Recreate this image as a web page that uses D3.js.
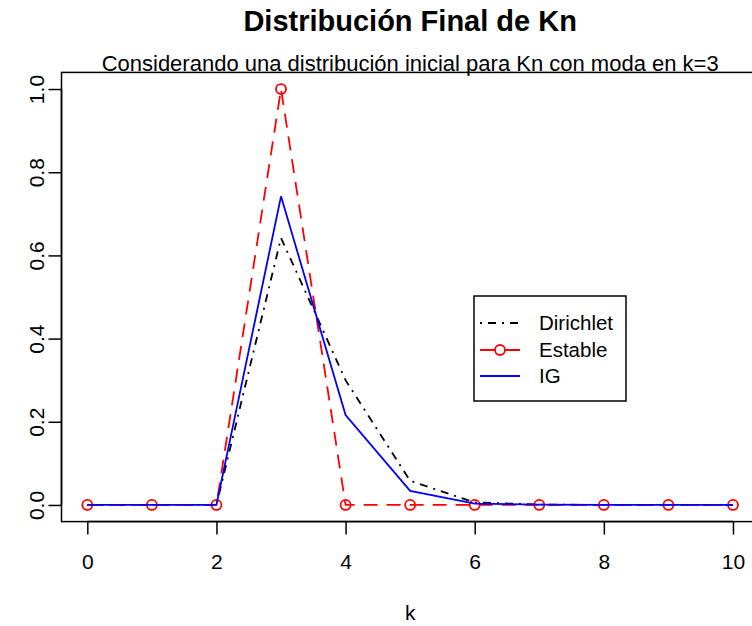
<!DOCTYPE html>
<html>
<head>
<meta charset="utf-8">
<script src="https://cdn.jsdelivr.net/npm/d3@7"></script>
<style>
  html, body { margin: 0; padding: 0; background: #fff; }
  svg { display: block; font-family: "Liberation Sans", Arial, Helvetica, sans-serif; }
</style>
</head>
<body>
<svg id="chart" width="752" height="626"></svg>
<script>
// Valores de k
const kValues = [0, 1, 2, 3, 4, 5, 6, 7, 8, 9, 10];
// Distribución final de Kn bajo cada previa
const dirichlet = [0, 0, 0, 0.642, 0.300, 0.058, 0.006, 0.001, 0, 0, 0];
const estable   = [0, 0, 0, 1.0, 0, 0, 0, 0, 0, 0, 0];
const ig        = [0, 0, 0, 0.742, 0.216, 0.034, 0.003, 0.001, 0, 0, 0];
const xTicks = [0, 2, 4, 6, 8, 10];
const yTicks = [0, 0.2, 0.4, 0.6, 0.8, 1.0];
const seriesNames = ["Dirichlet", "Estable", "IG"];

const svg = d3.select("#chart");
const box = { left: 61.5, right: 758.8, top: 72.4, bottom: 521.6 };
const FONT = "Liberation Sans, Arial, sans-serif";
const TICK_SIZE = 21;

// R-style 4% padding around the data range
const x = d3.scaleLinear().domain([-0.4, 10.4]).range([box.left, box.right]);
const y = d3.scaleLinear().domain([-0.04, 1.04]).range([box.bottom, box.top]);

const line = d3.line().x((d, i) => x(kValues[i])).y(d => y(d));

const plot = svg.append("g");

// Dirichlet: dot-dash black
plot.append("path").datum(dirichlet).attr("d", line)
  .attr("fill", "none").attr("stroke", "#000").attr("stroke-width", 1.8)
  .attr("stroke-dasharray", "2,6,8,6");

// Estable: dashed red with open circles
plot.append("path").datum(estable).attr("d", line)
  .attr("fill", "none").attr("stroke", "#ff0000").attr("stroke-width", 1.8)
  .attr("stroke-dasharray", "14,9");
plot.selectAll("circle.est").data(estable).enter().append("circle")
  .attr("class", "est")
  .attr("cx", (d, i) => x(kValues[i])).attr("cy", d => y(d)).attr("r", 5)
  .attr("fill", "none").attr("stroke", "#ff0000").attr("stroke-width", 1.8);

// IG: solid blue
plot.append("path").datum(ig).attr("d", line)
  .attr("fill", "none").attr("stroke", "#0000ff").attr("stroke-width", 1.8);

// Plot frame
svg.append("rect")
  .attr("x", box.left).attr("y", box.top)
  .attr("width", box.right - box.left).attr("height", box.bottom - box.top)
  .attr("fill", "none").attr("stroke", "#000").attr("stroke-width", 1.5);

// X axis
const xAxis = d3.axisBottom(x).tickValues(xTicks).tickSize(13).tickPadding(19)
  .tickFormat(d3.format("d"));
const gx = svg.append("g").attr("transform", `translate(0,${box.bottom})`).call(xAxis);
gx.select(".domain").attr("d", `M${x(0)},0H${x(10)}`).attr("stroke-width", 1.5);
gx.selectAll(".tick line").attr("stroke-width", 1.5);
gx.selectAll("text").attr("font-size", TICK_SIZE).attr("fill", "#000")
  .attr("font-family", FONT);

// Y axis with rotated labels
const yAxis = d3.axisLeft(y).tickValues(yTicks).tickSize(13).tickFormat(d3.format(".1f"));
const gy = svg.append("g").attr("transform", `translate(${box.left},0)`).call(yAxis);
gy.select(".domain").attr("d", `M0,${y(0)}V${y(1)}`).attr("stroke-width", 1.5);
gy.selectAll(".tick line").attr("stroke-width", 1.5);
gy.selectAll("text")
  .attr("x", null).attr("dy", null)
  .attr("transform", "translate(-17.5,0) rotate(-90)")
  .attr("text-anchor", "middle")
  .attr("font-size", TICK_SIZE).attr("fill", "#000")
  .attr("font-family", FONT);

const cx = (box.left + box.right) / 2;

// Titles
svg.append("text").attr("x", cx).attr("y", 31).attr("text-anchor", "middle")
  .attr("font-size", 29).attr("font-weight", "bold")
  .text("Distribución Final de Kn");
svg.append("text").attr("x", cx).attr("y", 71).attr("text-anchor", "middle")
  .attr("font-size", 22)
  .text("Considerando una distribución inicial para Kn con moda en k=3");
svg.append("text").attr("x", cx).attr("y", 620).attr("text-anchor", "middle")
  .attr("font-size", TICK_SIZE).text("k");

// Legend
const legend = svg.append("g");
legend.append("rect").attr("x", 474).attr("y", 296).attr("width", 152).attr("height", 105)
  .attr("fill", "#fff").attr("stroke", "#000").attr("stroke-width", 1.5);
const rowY = [323, 350, 376];
const styles = [
  { color: "#000", dash: "2,6,8,6", marker: false },
  { color: "#ff0000", dash: null, marker: true },
  { color: "#0000ff", dash: null, marker: false }
];
seriesNames.forEach((name, i) => {
  const s = styles[i];
  legend.append("line").attr("x1", 480).attr("x2", 520).attr("y1", rowY[i]).attr("y2", rowY[i])
    .attr("stroke", s.color).attr("stroke-width", 1.8)
    .attr("stroke-dasharray", s.dash);
  if (s.marker) {
    legend.append("circle").attr("cx", 500).attr("cy", rowY[i]).attr("r", 5)
      .attr("fill", "#fff").attr("stroke", s.color).attr("stroke-width", 1.8);
  }
  legend.append("text").attr("x", 539).attr("y", rowY[i]).attr("dy", "0.35em")
    .attr("font-size", 20.5).text(name);
});
</script>
</body>
</html>
